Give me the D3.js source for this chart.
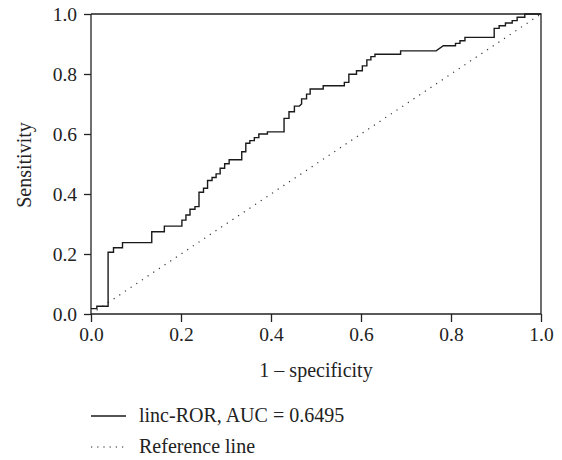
<!DOCTYPE html>
<html>
<head>
<meta charset="utf-8">
<script src="https://cdn.jsdelivr.net/npm/d3@7"></script>
<style>
    body { margin: 0; background: #fff; }
    svg text { font-family: "Liberation Serif", "DejaVu Serif", serif; fill: #222; }
</style>
</head>
<body>
<div id="chart"></div>
<script>
// ROC curve - linc-ROR

// ROC vertices (1 - specificity, sensitivity)
let fpr = [0, 0.013, 0.013, 0.038, 0.038, 0.050, 0.050, 0.070, 0.070, 0.135, 0.135,
    0.163, 0.163, 0.202, 0.202, 0.211, 0.211, 0.220, 0.220, 0.231, 0.231, 0.240, 0.240,
    0.250, 0.250, 0.259, 0.259, 0.269, 0.269, 0.278, 0.278, 0.287, 0.287, 0.297, 0.297,
    0.307, 0.307, 0.335, 0.335, 0.344, 0.344, 0.353, 0.353, 0.363, 0.363, 0.373, 0.373,
    0.392, 0.392, 0.429, 0.429, 0.440, 0.440, 0.452, 0.452, 0.463, 0.468, 0.468, 0.479,
    0.479, 0.487, 0.487, 0.516, 0.516, 0.563, 0.563, 0.573, 0.573, 0.590, 0.590, 0.603,
    0.603, 0.613, 0.613, 0.622, 0.622, 0.631, 0.631, 0.688, 0.688, 0.767, 0.783, 0.810,
    0.810, 0.820, 0.820, 0.831, 0.831, 0.896, 0.896, 0.907, 0.907, 0.921, 0.921, 0.936,
    0.936, 0.947, 0.947, 0.964, 0.964, 1.0];
let tpr = [0.018, 0.018, 0.026, 0.026, 0.206, 0.206, 0.221, 0.221, 0.238, 0.238, 0.274,
    0.274, 0.293, 0.293, 0.313, 0.313, 0.330, 0.330, 0.349, 0.349, 0.358, 0.358, 0.406,
    0.406, 0.419, 0.419, 0.445, 0.445, 0.455, 0.455, 0.467, 0.467, 0.486, 0.486, 0.501,
    0.501, 0.514, 0.514, 0.541, 0.541, 0.569, 0.569, 0.578, 0.578, 0.588, 0.588, 0.600,
    0.600, 0.607, 0.607, 0.652, 0.652, 0.674, 0.674, 0.693, 0.693, 0.700, 0.717, 0.717,
    0.733, 0.733, 0.750, 0.750, 0.761, 0.761, 0.772, 0.772, 0.799, 0.799, 0.811, 0.811,
    0.827, 0.827, 0.847, 0.847, 0.858, 0.858, 0.866, 0.866, 0.877, 0.877, 0.894, 0.894,
    0.902, 0.902, 0.911, 0.911, 0.922, 0.922, 0.952, 0.952, 0.961, 0.961, 0.970, 0.970,
    0.978, 0.978, 0.989, 0.989, 1.0, 1.0];

let refX = [0, 1];
let refY = [0, 1];

let ticks = [0, 0.2, 0.4, 0.6, 0.8, 1.0];
let legendLabels = ["linc-ROR, AUC = 0.6495", "Reference line"];

let margin = {top: 14, right: 21, bottom: 146, left: 91};
let width = 562 - margin.left - margin.right;
let height = 460 - margin.top - margin.bottom;

let svg = d3.select("#chart").append("svg")
    .attr("width", 562)
    .attr("height", 460);

let g = svg.append("g")
    .attr("transform", `translate(${margin.left}, ${margin.top})`);

// Scales
let x = d3.scaleLinear().domain([0, 1]).range([0, width]);
let y = d3.scaleLinear().domain([0, 1]).range([height, 0]);

// frame (top + right)
g.append("path")
    .attr("d", `M0,0H${width}V${height}`)
    .attr("fill", "none")
    .attr("stroke", "#222")
    .attr("stroke-width", 1.3);

// axes
let xAxis = d3.axisBottom(x).tickValues(ticks).tickFormat(d3.format(".1f")).tickSize(8).tickPadding(5);
let yAxis = d3.axisLeft(y).tickValues(ticks).tickFormat(d3.format(".1f")).tickSize(7).tickPadding(7);

g.append("g")
    .attr("class", "axis x-axis")
    .attr("transform", `translate(0, ${height})`)
    .call(xAxis);

g.append("g")
    .attr("class", "axis y-axis")
    .call(yAxis);

g.selectAll(".axis").attr("font-family", null).attr("font-size", null);
g.selectAll(".axis path, .axis line")
    .attr("stroke", "#222")
    .attr("stroke-width", 1.3);
g.selectAll(".axis .domain").attr("d", function () {
    return d3.select(this.parentNode).classed("x-axis") ? `M0,0H${width}` : `M0,0V${height}`;
});
g.selectAll(".axis text")
    .style("font-family", '"Liberation Serif", serif')
    .style("font-size", "19.5px")
    .attr("fill", "#222");

// reference line
let line = d3.line().x(d => x(d[0])).y(d => y(d[1]));

g.append("path")
    .datum(d3.zip(refX, refY))
    .attr("d", line)
    .attr("fill", "none")
    .attr("stroke", "#333")
    .attr("stroke-width", 1.2)
    .attr("stroke-dasharray", "1.2,5.6");

// ROC curve
g.append("path")
    .datum(d3.zip(fpr, tpr))
    .attr("d", line)
    .attr("fill", "none")
    .attr("stroke", "#1a1a1a")
    .attr("stroke-width", 1.4);

// axis titles
svg.append("text")
    .attr("x", margin.left + width / 2)
    .attr("y", 377)
    .attr("text-anchor", "middle")
    .style("font-size", "20px")
    .text("1 \u2013 specificity");

svg.append("text")
    .attr("transform", `translate(31, ${margin.top + height / 2 + 1}) rotate(-90)`)
    .attr("text-anchor", "middle")
    .style("font-size", "20px")
    .text("Sensitivity");

// legend
let legend = svg.append("g").attr("transform", "translate(91, 416)");
legendLabels.forEach((lab, i) => {
    let row = legend.append("g").attr("transform", `translate(0, ${i * 31})`);
    row.append("line")
        .attr("x1", 0).attr("x2", 35)
        .attr("stroke", "#1a1a1a")
        .attr("stroke-width", i === 0 ? 1.4 : 1.2)
        .attr("stroke-dasharray", i === 0 ? null : "1.2,5");
    row.append("text")
        .attr("x", 48)
        .attr("y", 6)
        .style("font-size", "20px")
        .text(lab);
});
</script>
</body>
</html>
